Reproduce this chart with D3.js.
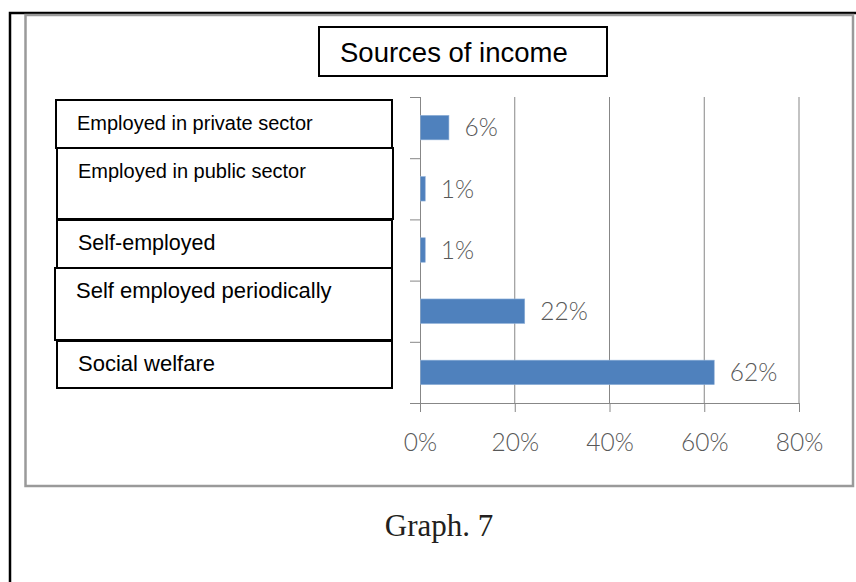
<!DOCTYPE html>
<html>
<head>
<meta charset="utf-8">
<script src="https://cdn.jsdelivr.net/npm/d3@7"></script>
<style>
  html, body { margin: 0; padding: 0; background: #fff; }
  svg { display: block; }
</style>
</head>
<body>
<svg id="chart" width="856" height="582"></svg>
<script>
// Sources of income (share of respondents, %)
const categories = [
  "Employed in private sector",
  "Employed in public sector",
  "Self-employed",
  "Self employed periodically",
  "Social welfare"
];
const values = [6, 1, 1, 22, 62];
const xTicks = [0, 20, 40, 60, 80];
const title = "Sources of income";
const caption = "Graph. 7";

// Framed label boxes that sit over the category axis (left, top, width, height, font size)
const labelBoxes = [
  { x: 56, y: 100, w: 336, h: 48, fs: 20 },
  { x: 57, y: 148, w: 336, h: 71, fs: 20 },
  { x: 57, y: 220, w: 335, h: 48, fs: 21.5 },
  { x: 55, y: 268, w: 337, h: 72, fs: 22 },
  { x: 57, y: 341, w: 335, h: 47, fs: 22 }
];

const svg = d3.select("#chart");
const axisColor = "#878787";
const barColor = "#4f81bd";
const valueFont = "Lato, 'Open Sans', 'DejaVu Sans', sans-serif";
const valueColor = "#585858";

// Outer page frame (black) and chart area border (grey)
svg.append("path")
  .attr("d", "M10,582 V13 H856")
  .attr("fill", "none").attr("stroke", "#000").attr("stroke-width", 2.5);
svg.append("rect")
  .attr("x", 25.5).attr("y", 15).attr("width", 827.5).attr("height", 471)
  .attr("fill", "none").attr("stroke", "#9a9a9a").attr("stroke-width", 2.5);

// Scales
const plot = { left: 420, right: 799, top: 97, bottom: 403 };
const x = d3.scaleLinear().domain([0, 80]).range([plot.left, plot.right]);
const y = d3.scaleBand().domain(categories)
  .range([plot.top, plot.bottom]).paddingInner(0.6).paddingOuter(0.3);

// Vertical gridlines
svg.append("g").selectAll("line")
  .data(xTicks.filter(d => d > 0))
  .join("line")
  .attr("x1", d => x(d)).attr("x2", d => x(d))
  .attr("y1", plot.top).attr("y2", plot.bottom)
  .attr("stroke", axisColor).attr("stroke-width", 1);

// Bottom value axis
const xAxis = svg.append("g")
  .attr("transform", `translate(0,${plot.bottom})`)
  .call(d3.axisBottom(x).tickValues(xTicks).tickSize(9).tickPadding(22)
    .tickFormat(d => d + "%"));
xAxis.select(".domain").attr("stroke", axisColor).attr("d", `M${plot.left - 10},0.5H${plot.right}`);
xAxis.selectAll(".tick line").attr("stroke", axisColor);
xAxis.selectAll(".tick text")
  .attr("fill", valueColor)
  .attr("font-family", valueFont).attr("font-weight", 300)
  .attr("font-size", 24.5);

// Category axis: ticks sit on the boundaries between the category slots
const yBounds = d3.scaleLinear().domain([0, categories.length]).range([plot.top, plot.bottom]);
const yAxis = svg.append("g")
  .attr("transform", `translate(${plot.left},0)`)
  .call(d3.axisLeft(yBounds).tickValues(d3.range(categories.length + 1))
    .tickSize(10).tickFormat(""));
yAxis.select(".domain").attr("stroke", axisColor).attr("d", `M0.5,${plot.top}V${plot.bottom}`);
yAxis.selectAll(".tick line").attr("stroke", axisColor);

// Bars
svg.append("g").selectAll("rect")
  .data(categories)
  .join("rect")
  .attr("x", x(0) + 0.5)
  .attr("y", d => y(d))
  .attr("width", (d, i) => x(values[i]) - x(0))
  .attr("height", y.bandwidth())
  .attr("fill", barColor)
  .attr("stroke", "#8fb0d8").attr("stroke-width", 0.6);

// Value labels
svg.append("g").selectAll("text")
  .data(categories)
  .join("text")
  .attr("x", (d, i) => x(values[i]) + 16)
  .attr("y", d => y(d) + y.bandwidth() / 2)
  .attr("dy", "0.36em")
  .attr("fill", valueColor)
  .attr("font-family", valueFont).attr("font-weight", 300)
  .attr("font-size", 24.5)
  .text((d, i) => values[i] + "%");

// Category labels in framed boxes
const boxes = svg.append("g").selectAll("g")
  .data(categories)
  .join("g");
boxes.append("rect")
  .attr("x", (d, i) => labelBoxes[i].x)
  .attr("y", (d, i) => labelBoxes[i].y)
  .attr("width", (d, i) => labelBoxes[i].w)
  .attr("height", (d, i) => labelBoxes[i].h)
  .attr("fill", "#fff").attr("stroke", "#000").attr("stroke-width", 2);
boxes.append("text")
  .attr("x", (d, i) => labelBoxes[i].x + 21)
  .attr("y", (d, i) => labelBoxes[i].y + 30)
  .attr("font-family", "'Liberation Sans', Arial, sans-serif")
  .attr("font-size", (d, i) => labelBoxes[i].fs)
  .attr("fill", "#000")
  .text(d => d);

// Title box
svg.append("rect")
  .attr("x", 319).attr("y", 27).attr("width", 288).attr("height", 49)
  .attr("fill", "#fff").attr("stroke", "#000").attr("stroke-width", 2);
svg.append("text")
  .attr("x", 340).attr("y", 62)
  .attr("font-family", "'Liberation Sans', Arial, sans-serif")
  .attr("font-size", 27.5).attr("fill", "#000")
  .text(title);

// Caption below the chart
svg.append("text")
  .attr("x", 439).attr("y", 536)
  .attr("text-anchor", "middle")
  .attr("font-family", "'Liberation Serif', 'Times New Roman', serif")
  .attr("font-size", 31).attr("fill", "#231f20")
  .text(caption);
</script>
</body>
</html>
